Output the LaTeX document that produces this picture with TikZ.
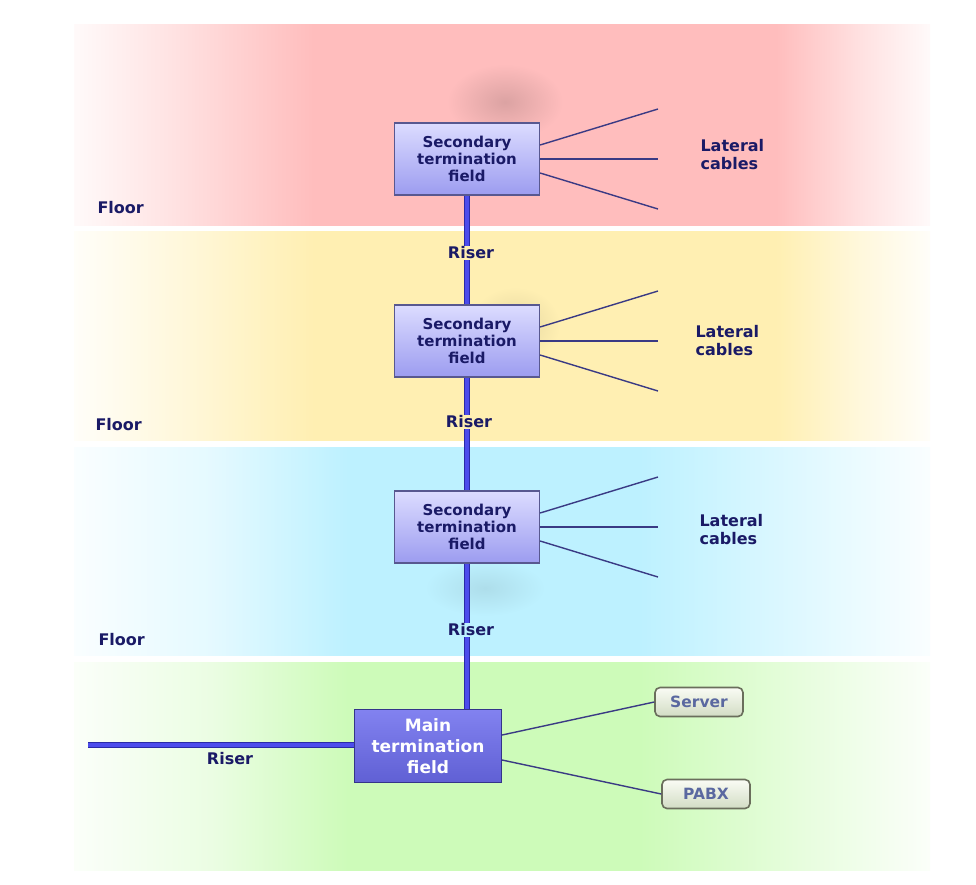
\documentclass[tikz,border=0pt]{standalone}
\usepackage{fontspec}
\setmainfont{DejaVu Sans}
\definecolor{bandred}{HTML}{FFBDBD}
\definecolor{bandyellow}{HTML}{FFEFB2}
\definecolor{bandblue}{HTML}{BDF1FF}
\definecolor{bandgreen}{HTML}{CDFBB9}
\definecolor{labelnavy}{HTML}{1A1A66}
\definecolor{fieldtop}{HTML}{DCDCFF}
\definecolor{fieldbot}{HTML}{9C9CF0}
\definecolor{fieldedge}{HTML}{585890}
\definecolor{maintop}{HTML}{8282F0}
\definecolor{mainbot}{HTML}{6060D4}
\definecolor{mainedge}{HTML}{34348A}
\definecolor{riserblue}{HTML}{4C4CEC}
\definecolor{riseredge}{HTML}{2A2AA8}
\definecolor{cablenavy}{HTML}{3A3A84}
\definecolor{devtop}{HTML}{FAFCF5}
\definecolor{devbot}{HTML}{D2DCC4}
\definecolor{devedge}{HTML}{6A6E5C}
\definecolor{devtext}{HTML}{5A68A0}
\colorlet{bandcol}{bandred}
\pgfdeclarehorizontalshading[bandcol]{floorband}{100bp}{color(0bp)=(bandcol!8!white); color(25bp)=(bandcol!8!white); color(31bp)=(bandcol!45!white); color(39bp)=(bandcol); color(66bp)=(bandcol); color(71bp)=(bandcol!45!white); color(75bp)=(bandcol!8!white); color(100bp)=(bandcol!8!white)}
\pgfdeclarehorizontalshading[bandcol]{floorbandsoft}{100bp}{color(0bp)=(bandcol!8!white); color(25bp)=(bandcol!8!white); color(33bp)=(bandcol!40!white); color(41bp)=(bandcol); color(58bp)=(bandcol); color(68bp)=(bandcol!45!white); color(75bp)=(bandcol!8!white); color(100bp)=(bandcol!8!white)}

\begin{document}
\begin{tikzpicture}[x=1pt, y=-1pt,
  lbl/.style={text=labelnavy, font=\fontsize{16}{18}\selectfont\bfseries},
  subfield/.style={draw=fieldedge, line width=1.2pt, top color=fieldtop, bottom color=fieldbot,
    minimum width=145pt, minimum height=72pt, inner sep=0pt, align=center,
    text=labelnavy, font=\fontsize{15}{16.7}\selectfont\bfseries},
  mainfield/.style={draw=mainedge, line width=1.2pt, top color=maintop, bottom color=mainbot,
    minimum width=147pt, minimum height=73pt, inner sep=0pt, align=center,
    text=white, font=\fontsize{17}{21}\selectfont\bfseries},
  device/.style={draw=devedge, line width=1.6pt, rounded corners=5pt, top color=devtop, bottom color=devbot,
    minimum width=88pt, minimum height=29pt, inner sep=0pt,
    text=devtext, font=\fontsize{15.5}{17}\selectfont\bfseries},
  riser/.style={draw=riseredge, double=riserblue, double distance=3.4pt, line width=0.9pt},
  cable/.style={draw=cablenavy, line width=1.4pt}]
  \useasboundingbox (0,0) rectangle (976,884);
  \fill[white] (0,0) rectangle (976,884);
  \foreach \ya/\yb/\bc/\sh in {24/225/bandred/floorband, 231/440/bandyellow/floorband,
      447/655/bandblue/floorbandsoft, 662/870/bandgreen/floorbandsoft} {
    \colorlet{bandcol}{\bc}
    \shade[shading=\sh] (74,\ya) rectangle (930,\yb);
  }
  \shade[inner color=bandred!86!black, outer color=bandred] (505,102) ellipse [x radius=58, y radius=38];
  \shade[inner color=bandyellow!90!black, outer color=bandyellow] (515,325) ellipse [x radius=45, y radius=38];
  \shade[inner color=bandblue!92!black, outer color=bandblue] (485,588) ellipse [x radius=60, y radius=28];

  \node[lbl, anchor=west] (f1) at (94,208) {Floor};
  \node[lbl, anchor=west] (f2) at (92,425) {Floor};
  \node[lbl, anchor=west] (f3) at (95,640) {Floor};

  \node[subfield] (s1) at (467,159) {Secondary\\termination\\field};
  \node[subfield] (s2) at (467,341) {Secondary\\termination\\field};
  \node[subfield] (s3) at (467,527) {Secondary\\termination\\field};
  \node[mainfield] (m) at (428,746) {Main\\termination\\field};
  \node[device] (srv) at (699,702) {Server};
  \node[device] (pabx) at (706,794) {PABX};

  \foreach \n/\cy in {1/159, 2/341, 3/527} {
    \coordinate (c\n a) at (658,\cy-50);
    \coordinate (c\n b) at (658,\cy);
    \coordinate (c\n c) at (658,\cy+50);
    \draw[cable] ([yshift=14pt]s\n.east) -- (c\n a);
    \draw[cable] (s\n.east) -- (c\n b);
    \draw[cable] ([yshift=-14pt]s\n.east) -- (c\n c);
  }
  \node[lbl, align=left, anchor=west] (lc1) at (697,155) {Lateral\\cables};
  \node[lbl, align=left, anchor=west] (lc2) at (692,341) {Lateral\\cables};
  \node[lbl, align=left, anchor=west] (lc3) at (696,530) {Lateral\\cables};

  \draw[cable] ([yshift=11pt]m.east) -- (srv.west);
  \draw[cable] ([yshift=-14pt]m.east) -- (pabx.west);

  \draw[riser] (s1) -- (s2);
  \draw[riser] (s2) -- (s3);
  \draw[riser] (s3.south) -- (s3.south |- m.north);
  \coordinate (rl) at (88,745);
  \draw[riser] (rl) -- (rl -| m.west);

  \node[lbl, fill=bandyellow, inner sep=1pt] (r1) at (471,253) {Riser};
  \node[lbl, fill=bandyellow, inner sep=1pt] (r2) at (469,422) {Riser};
  \node[lbl, fill=bandblue, inner sep=1pt] (r3) at (471,630) {Riser};
  \node[lbl] (r4) at (230,759) {Riser};
\end{tikzpicture}
\end{document}
